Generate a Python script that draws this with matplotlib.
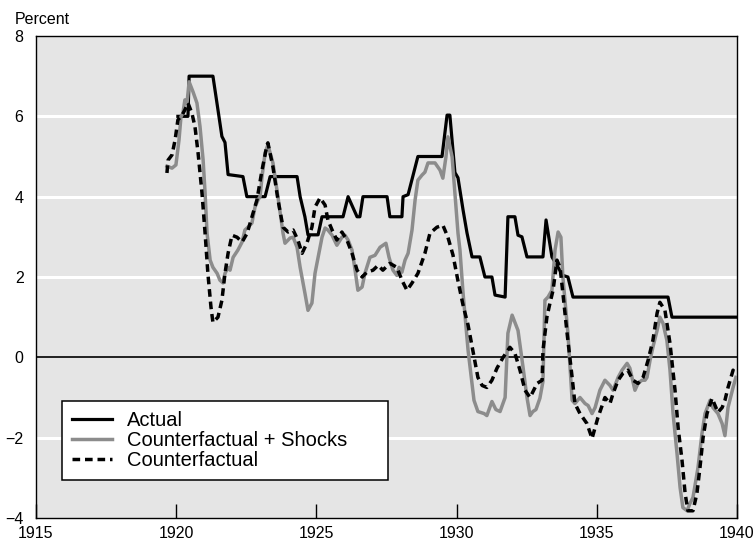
import matplotlib
matplotlib.use('Agg')
import matplotlib.pyplot as plt

# values (percent)
actual_years = [1920.06, 1920.42, 1920.46, 1921.31, 1921.49, 1921.63, 1921.74,
                1921.85, 1922.38, 1922.52, 1923.17, 1923.35, 1924.31, 1924.42, 1924.59,
                1924.70, 1925.06, 1925.20, 1925.95, 1926.13, 1926.45, 1926.55, 1926.66,
                1927.52, 1927.62, 1928.05, 1928.09, 1928.27, 1928.62, 1929.48, 1929.66,
                1929.76, 1929.94, 1930.05, 1930.23, 1930.37, 1930.55, 1930.83, 1931.01,
                1931.26, 1931.37, 1931.73, 1931.83, 1932.08, 1932.19, 1932.33, 1932.51,
                1933.08, 1933.19, 1933.40, 1933.79, 1933.97, 1934.15, 1937.54, 1937.68,
                1940.0]
actual_vals = [6.0, 6.0, 7.0, 7.0, 6.16, 5.5, 5.35,
               4.55, 4.5, 4.0, 4.0, 4.5, 4.5, 4.0, 3.5,
               3.05, 3.05, 3.5, 3.5, 4.0, 3.5, 3.5, 4.0,
               4.0, 3.5, 3.5, 4.0, 4.05, 5.0, 5.0, 6.03,
               6.03, 4.6, 4.47, 3.67, 3.1, 2.5, 2.5, 2.0,
               2.0, 1.55, 1.5, 3.5, 3.5, 3.04, 3.0, 2.5,
               2.5, 3.42, 2.5, 2.04, 2.0, 1.5, 1.5, 1.0,
               1.0]

shock_years = [1919.67, 1919.85, 1919.99, 1920.10, 1920.17, 1920.24, 1920.31, 1920.39,
               1920.46, 1920.60, 1920.74, 1920.85, 1920.96, 1921.03, 1921.10, 1921.21,
               1921.31, 1921.46, 1921.56, 1921.67, 1921.74, 1921.85, 1921.92, 1922.03,
               1922.20, 1922.35, 1922.45, 1922.56, 1922.70, 1922.81, 1922.92, 1922.99,
               1923.06, 1923.17, 1923.27, 1923.45, 1923.63, 1923.81, 1923.88, 1924.06,
               1924.17, 1924.31, 1924.42, 1924.59, 1924.70, 1924.84, 1924.95, 1925.06,
               1925.20, 1925.31, 1925.41, 1925.56, 1925.73, 1925.91, 1926.02, 1926.13,
               1926.27, 1926.38, 1926.48, 1926.63, 1926.73, 1926.91, 1927.09, 1927.27,
               1927.48, 1927.59, 1927.73, 1927.87, 1927.95, 1928.05, 1928.16, 1928.27,
               1928.41, 1928.52, 1928.62, 1928.77, 1928.87, 1928.98, 1929.23, 1929.41,
               1929.51, 1929.62, 1929.69, 1929.84, 1929.94, 1930.05, 1930.12, 1930.23,
               1930.41, 1930.55, 1930.62, 1930.76, 1930.98, 1931.08, 1931.26, 1931.40,
               1931.55, 1931.73, 1931.83, 1931.98, 1932.19, 1932.37, 1932.51, 1932.62,
               1932.72, 1932.83, 1932.97, 1933.08, 1933.15, 1933.26, 1933.40, 1933.51,
               1933.62, 1933.72, 1933.79, 1933.97, 1934.12, 1934.22, 1934.40, 1934.58,
               1934.69, 1934.83, 1934.94, 1935.11, 1935.29, 1935.47, 1935.58, 1935.76,
               1935.90, 1936.08, 1936.18, 1936.36, 1936.47, 1936.61, 1936.72, 1936.79,
               1936.90, 1937.00, 1937.15, 1937.25, 1937.36, 1937.50, 1937.61, 1937.72,
               1937.86, 1937.97, 1938.07, 1938.22, 1938.32, 1938.43, 1938.61, 1938.75,
               1938.86, 1939.04, 1939.14, 1939.32, 1939.47, 1939.57, 1939.68, 1939.86,
               1939.96]
shock_vals = [4.76, 4.71, 4.79, 5.41, 5.99, 6.08, 6.41, 6.36,
              6.86, 6.61, 6.33, 5.74, 4.91, 4.09, 3.09, 2.42,
              2.24, 2.09, 1.92, 1.85, 2.09, 2.24, 2.17, 2.49,
              2.67, 2.87, 3.17, 3.24, 3.34, 3.74, 3.92, 4.00,
              4.49, 5.09, 5.29, 4.84, 3.99, 3.09, 2.84, 2.97,
              2.99, 2.74, 2.24, 1.60, 1.17, 1.35, 2.09, 2.49,
              2.99, 3.22, 3.17, 3.04, 2.79, 2.99, 3.04, 2.92,
              2.67, 2.17, 1.67, 1.75, 2.09, 2.49, 2.54, 2.74,
              2.84, 2.49, 2.17, 2.04, 2.24, 2.12, 2.42, 2.59,
              3.17, 3.92, 4.41, 4.54, 4.61, 4.84, 4.84, 4.66,
              4.46, 4.99, 5.49, 4.99, 4.09, 3.09, 2.67, 1.60,
              0.17, -0.65, -1.07, -1.35, -1.40, -1.45, -1.10, -1.30,
              -1.35, -1.00, 0.60, 1.05, 0.67, -0.25, -1.00, -1.45,
              -1.35, -1.30, -1.02, -0.60, 1.42, 1.50, 1.67, 2.67,
              3.12, 2.99, 2.00, 0.60, -1.07, -1.15, -1.00, -1.15,
              -1.20, -1.40, -1.25, -0.82, -0.57, -0.70, -0.82, -0.50,
              -0.32, -0.15, -0.27, -0.82, -0.65, -0.57, -0.57, -0.50,
              -0.07, 0.25, 0.67, 1.00, 0.85, 0.42, -0.32, -1.40,
              -2.39, -3.24, -3.74, -3.82, -3.64, -3.49, -2.74, -1.90,
              -1.40, -1.07, -1.25, -1.40, -1.65, -1.95, -1.25, -0.75,
              -0.50]

cf_years = [1919.67, 1919.71, 1919.85, 1919.96, 1920.06, 1920.21, 1920.31, 1920.42,
            1920.56, 1920.67, 1920.78, 1920.92, 1921.03, 1921.13, 1921.24, 1921.31,
            1921.49, 1921.63, 1921.74, 1921.85, 1921.99, 1922.17, 1922.35, 1922.53,
            1922.70, 1922.88, 1923.06, 1923.24, 1923.27, 1923.45, 1923.63, 1923.81,
            1923.99, 1924.17, 1924.34, 1924.49, 1924.66, 1924.84, 1924.95, 1925.13,
            1925.31, 1925.41, 1925.56, 1925.73, 1925.91, 1926.09, 1926.27, 1926.45,
            1926.63, 1926.80, 1927.02, 1927.20, 1927.37, 1927.62, 1927.87, 1928.05,
            1928.23, 1928.41, 1928.62, 1928.87, 1929.05, 1929.30, 1929.51, 1929.69,
            1929.87, 1930.05, 1930.23, 1930.41, 1930.58, 1930.76, 1930.91, 1931.08,
            1931.26, 1931.44, 1931.66, 1931.90, 1932.08, 1932.26, 1932.44, 1932.62,
            1932.87, 1933.05, 1933.08, 1933.22, 1933.33, 1933.44, 1933.58, 1933.69,
            1933.79, 1933.94, 1934.12, 1934.22, 1934.40, 1934.65, 1934.83, 1935.04,
            1935.29, 1935.47, 1935.58, 1935.76, 1935.93, 1936.11, 1936.29, 1936.47,
            1936.65, 1936.83, 1937.00, 1937.15, 1937.25, 1937.43, 1937.61, 1937.79,
            1937.90, 1938.04, 1938.15, 1938.25, 1938.43, 1938.57, 1938.68, 1938.79,
            1938.93, 1939.11, 1939.32, 1939.47, 1939.57, 1939.68, 1939.86, 1939.93]
cf_vals = [4.59, 4.91, 5.04, 5.41, 5.91, 6.03, 6.16, 6.33,
           6.08, 5.74, 5.09, 4.09, 3.09, 2.09, 1.25, 0.87,
           1.00, 1.42, 2.09, 2.59, 3.04, 2.99, 2.87, 3.09,
           3.49, 3.92, 4.66, 5.29, 5.34, 4.74, 3.92, 3.24,
           3.12, 3.17, 2.92, 2.59, 2.84, 3.24, 3.74, 3.97,
           3.79, 3.42, 3.17, 2.92, 3.12, 2.92, 2.59, 2.17,
           2.00, 2.12, 2.17, 2.29, 2.17, 2.34, 2.24, 1.92,
           1.67, 1.85, 2.09, 2.59, 3.09, 3.24, 3.29, 2.99,
           2.55, 1.90, 1.30, 0.80, 0.17, -0.50, -0.70, -0.75,
           -0.57, -0.27, 0.00, 0.25, 0.10, -0.32, -0.82, -1.00,
           -0.65, -0.57, 0.17, 1.00, 1.35, 1.67, 2.42, 2.24,
           1.60, 0.60, -0.50, -1.15, -1.40, -1.65, -2.02, -1.50,
           -1.00, -1.15, -0.90, -0.57, -0.40, -0.32, -0.57, -0.65,
           -0.50, -0.07, 0.42, 1.10, 1.37, 1.17, 0.35, -0.82,
           -1.75, -2.57, -3.39, -3.82, -3.82, -3.39, -2.74, -2.00,
           -1.40, -1.02, -1.37, -1.25, -1.07, -0.75, -0.32, -0.40]

plt.rcParams['font.family'] = ['Liberation Sans', 'DejaVu Sans']
plt.rcParams['lines.scale_dashes'] = False

fig = plt.figure(figsize=(7.54, 5.43), dpi=100)
ax = fig.add_axes([36/754, 25/543, 701/754, 482/543])
ax.set_facecolor('#e5e5e5')

for g in [-2, 2, 4, 6]:
    ax.axhline(g, color='white', lw=2.2, zorder=1)
ax.axhline(0, color='black', lw=1.2, zorder=2)

ax.plot(actual_years, actual_vals, color='black', lw=2.3, zorder=3, label='Actual')
ax.plot(shock_years, shock_vals, color='#8c8c8c', lw=2.5, zorder=4,
        label='Counterfactual + Shocks')
ax.plot(cf_years, cf_vals, color='black', lw=2.5, dashes=(5.5, 3.5), zorder=5,
        label='Counterfactual')

ax.set_xlim(1915, 1940)
ax.set_ylim(-4, 8)
ax.set_xticks([1915, 1920, 1925, 1930, 1935, 1940])
ax.set_yticks([-4, -2, 0, 2, 4, 6, 8])
ax.tick_params(axis='x', direction='in', length=10, width=1, pad=6, labelsize=11.5)
ax.tick_params(axis='y', length=0, pad=9, labelsize=11.5)
for s in ax.spines.values():
    s.set_linewidth(1.0)

fig.text(15/754, 1 - 19/543, 'Percent', fontsize=11.5, ha='left', va='center')

leg = ax.legend(loc='lower left', bbox_to_anchor=(0.037, 0.079, 0.465, 0.156),
                mode='expand', fontsize=14.5, fancybox=False, framealpha=1,
                edgecolor='black', borderpad=0.5, labelspacing=0.05,
                handlelength=2.0, handletextpad=0.75, borderaxespad=0)
leg.get_frame().set_linewidth(1.1)

plt.savefig('out.png', dpi=100)
